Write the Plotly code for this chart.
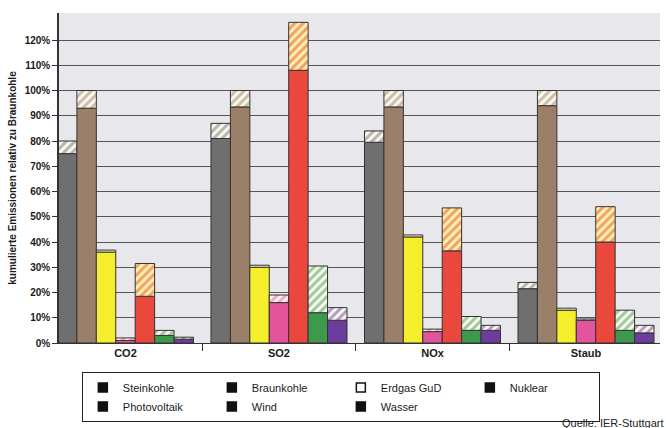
import plotly.graph_objects as go

categories = ["CO2", "SO2", "NOx", "Staub"]
series = ["Steinkohle", "Braunkohle", "Erdgas GuD", "Nuklear", "Photovoltaik", "Wind", "Wasser"]
colors = ["#6f6f6f", "#9c7f68", "#f4ee2c", "#e2559d", "#ea473d", "#3d9a4c", "#6c3d9c"]
hatch_bg = ["#fbf8ee", "#fbf8ee", "#fbf8ee", "#fbf8ee", "#fdf3a8", "#fbf8ee", "#fbf8ee"]

# direct (solid) part, % relative to Braunkohle
steinkohle = [75, 81, 79.5, 21.5]
braunkohle = [93, 93.5, 93.5, 94]
erdgas = [36, 30, 42, 13]
nuklear = [1, 16, 4.5, 9]
photovoltaik = [18.5, 108, 36.5, 40]
wind = [3, 12, 5, 5]
wasser = [1.5, 9, 5, 4]

# upstream (hatched) part
steinkohle_h = [5, 6, 4.5, 2.5]
braunkohle_h = [7, 6.5, 6.5, 6]
erdgas_h = [0.8, 0.8, 0.8, 0.8]
nuklear_h = [1, 3, 1, 0.5]
photovoltaik_h = [13, 19, 17, 14]
wind_h = [2, 18.5, 5.5, 8]
wasser_h = [0.8, 5, 2, 3]

solid = [steinkohle, braunkohle, erdgas, nuklear, photovoltaik, wind, wasser]
hatched = [steinkohle_h, braunkohle_h, erdgas_h, nuklear_h, photovoltaik_h, wind_h, wasser_h]

yticks = list(range(0, 130, 10))
yticktext = [f"{v}%" for v in yticks]

legend_fill = ["#111111", "#111111", "#ffffff", "#111111", "#111111", "#111111", "#111111"]

fig = go.Figure()
outline = dict(color="#333333", width=1)
for i, name in enumerate(series):
    fig.add_trace(go.Bar(
        x=categories, y=solid[i], name=name, offsetgroup=str(i),
        marker=dict(color=colors[i], line=outline), showlegend=False,
    ))
    fig.add_trace(go.Bar(
        x=categories, y=hatched[i], base=solid[i], name=name + " (Vorkette)",
        offsetgroup=str(i),
        marker=dict(color=hatch_bg[i], line=outline,
                    pattern=dict(shape="/", fgcolor=colors[i], bgcolor=hatch_bg[i],
                                 size=6, solidity=0.5, fillmode="overlay")),
        showlegend=False,
    ))

for i, name in enumerate(series):
    fig.add_trace(go.Scatter(
        x=[None], y=[None], mode="markers", name=name,
        marker=dict(symbol="square", size=9, color=legend_fill[i],
                    line=dict(color="#111111", width=1.5)),
        showlegend=True,
    ))

fig.update_layout(
    width=666, height=428,
    margin=dict(l=59, r=6, t=13, b=85),
    paper_bgcolor="#ffffff",
    plot_bgcolor="#e8e8ec",
    barmode="group",
    bargap=0.114, bargroupgap=0,
    font=dict(family="Liberation Sans, Arial, sans-serif", color="#1a1a1a", size=11),
    legend=dict(
        orientation="h", x=0.038, xanchor="left", y=-0.088, yanchor="top",
        entrywidth=84, bordercolor="#222222", borderwidth=1,
        font=dict(size=11), bgcolor="#ffffff", tracegroupgap=0,
    ),
    annotations=[dict(
        text="Quelle: IER-Stuttgart", xref="paper", yref="paper",
        x=1.01, y=-0.2424, xanchor="right", yanchor="middle",
        showarrow=False, font=dict(size=11, color="#222222"),
    )],
)

fig.update_xaxes(
    range=[-0.433, 3.482], showline=True, linecolor="#333333", linewidth=1,
    ticks="outside", tickson="boundaries", ticklen=7, tickcolor="#333333",
    tickfont=dict(size=11, weight="bold"), showgrid=False,
)
fig.update_yaxes(
    range=[0, 130.7], tickvals=yticks, ticktext=yticktext,
    showline=True, linecolor="#333333", linewidth=1.5,
    ticks="outside", ticklen=5, tickcolor="#333333",
    tickfont=dict(size=10, weight="bold"),
    showgrid=True, gridcolor="#555555", gridwidth=1, zeroline=False,
    title=dict(text="kumulierte Emissionen relativ zu Braunkohle",
               font=dict(size=10, weight="bold"), standoff=6),
)

fig.write_html("out.html")
